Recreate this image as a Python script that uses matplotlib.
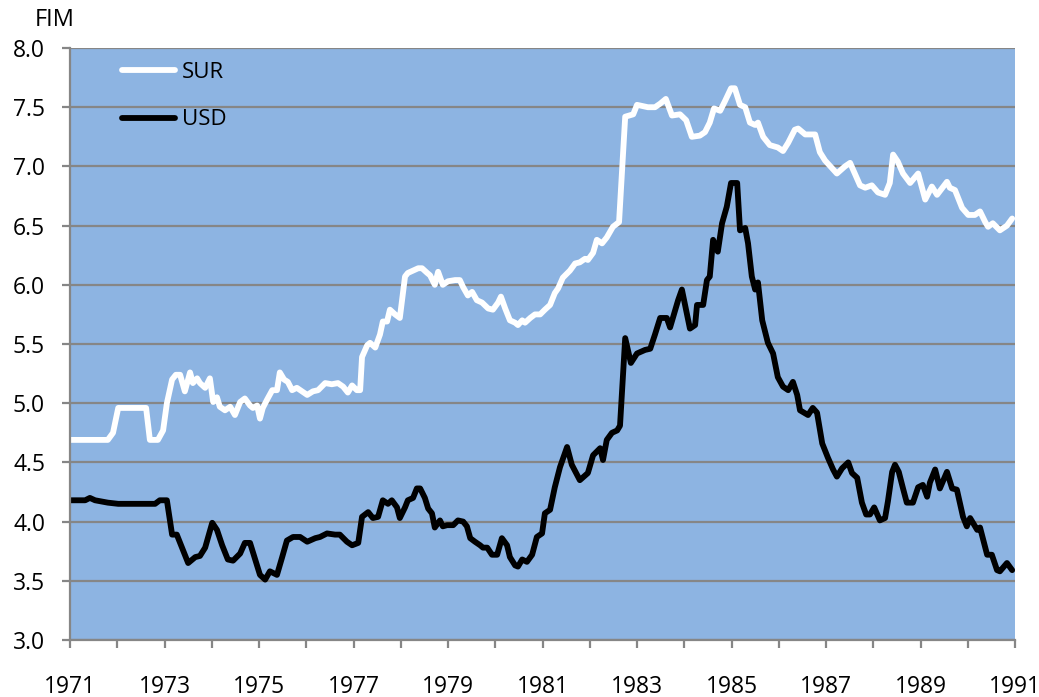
import matplotlib.pyplot as plt
from matplotlib.ticker import MultipleLocator

# FIM per currency (decimal years)
sur_year = [1971.00, 1971.80, 1971.91, 1972.02, 1972.61, 1972.69, 1972.86, 1972.97,
            1973.05, 1973.16, 1973.24, 1973.33, 1973.43, 1973.54, 1973.60, 1973.69,
            1973.75, 1973.86, 1973.96, 1974.03, 1974.11, 1974.17, 1974.28, 1974.39,
            1974.49, 1974.60, 1974.70, 1974.81, 1974.87, 1974.96, 1975.02, 1975.08,
            1975.17, 1975.28, 1975.38, 1975.44, 1975.53, 1975.61, 1975.70, 1975.80,
            1975.91, 1976.02, 1976.14, 1976.25, 1976.40, 1976.54, 1976.67, 1976.78,
            1976.88, 1976.97, 1977.07, 1977.14, 1977.18, 1977.29, 1977.35, 1977.46,
            1977.56, 1977.62, 1977.71, 1977.77, 1977.88, 1977.98, 1978.09, 1978.15,
            1978.26, 1978.37, 1978.45, 1978.56, 1978.62, 1978.72, 1978.79, 1978.89,
            1979.00, 1979.15, 1979.25, 1979.32, 1979.42, 1979.51, 1979.61, 1979.72,
            1979.85, 1979.95, 1980.06, 1980.12, 1980.21, 1980.31, 1980.42, 1980.48,
            1980.57, 1980.63, 1980.74, 1980.84, 1980.95, 1981.05, 1981.16, 1981.26,
            1981.33, 1981.43, 1981.58, 1981.69, 1981.79, 1981.90, 1981.96, 1982.07,
            1982.15, 1982.26, 1982.36, 1982.49, 1982.62, 1982.75, 1982.92, 1983.00,
            1983.23, 1983.38, 1983.49, 1983.61, 1983.74, 1983.91, 1984.04, 1984.16,
            1984.33, 1984.44, 1984.54, 1984.63, 1984.76, 1984.86, 1984.99, 1985.07,
            1985.18, 1985.29, 1985.39, 1985.50, 1985.56, 1985.67, 1985.81, 1985.98,
            1986.09, 1986.20, 1986.34, 1986.41, 1986.56, 1986.77, 1986.87, 1986.98,
            1987.23, 1987.40, 1987.51, 1987.61, 1987.72, 1987.83, 1987.97, 1988.10,
            1988.25, 1988.35, 1988.42, 1988.52, 1988.63, 1988.78, 1988.95, 1989.10,
            1989.24, 1989.35, 1989.56, 1989.62, 1989.73, 1989.88, 1990.01, 1990.15,
            1990.26, 1990.37, 1990.43, 1990.53, 1990.68, 1990.83, 1990.94]
sur = [4.69, 4.69, 4.75, 4.96, 4.96, 4.69, 4.69, 4.77,
       5.00, 5.20, 5.24, 5.24, 5.10, 5.26, 5.17, 5.21,
       5.17, 5.13, 5.21, 5.01, 5.05, 4.97, 4.94, 4.97,
       4.90, 5.01, 5.04, 4.98, 4.96, 4.98, 4.87, 4.96,
       5.03, 5.11, 5.11, 5.26, 5.20, 5.18, 5.11, 5.13,
       5.10, 5.07, 5.10, 5.11, 5.17, 5.16, 5.17, 5.14,
       5.09, 5.15, 5.11, 5.11, 5.39, 5.49, 5.51, 5.47,
       5.58, 5.69, 5.69, 5.79, 5.75, 5.72, 6.07, 6.10,
       6.12, 6.14, 6.14, 6.10, 6.08, 6.00, 6.11, 6.00,
       6.03, 6.04, 6.04, 5.98, 5.91, 5.94, 5.87, 5.85,
       5.80, 5.79, 5.85, 5.90, 5.80, 5.70, 5.68, 5.66,
       5.70, 5.68, 5.72, 5.75, 5.75, 5.79, 5.83, 5.93,
       5.97, 6.06, 6.12, 6.18, 6.19, 6.22, 6.21, 6.27,
       6.38, 6.35, 6.40, 6.49, 6.53, 7.42, 7.44, 7.52,
       7.50, 7.50, 7.53, 7.57, 7.43, 7.44, 7.39, 7.25,
       7.26, 7.29, 7.37, 7.49, 7.47, 7.55, 7.66, 7.66,
       7.52, 7.50, 7.37, 7.35, 7.37, 7.25, 7.18, 7.16,
       7.13, 7.20, 7.31, 7.32, 7.27, 7.27, 7.12, 7.05,
       6.94, 7.00, 7.03, 6.94, 6.84, 6.82, 6.84, 6.78,
       6.76, 6.86, 7.10, 7.04, 6.94, 6.86, 6.94, 6.72,
       6.83, 6.76, 6.87, 6.82, 6.80, 6.65, 6.59, 6.59,
       6.62, 6.53, 6.49, 6.52, 6.46, 6.50, 6.56]

usd_year = [1971.00, 1971.32, 1971.42, 1971.53, 1971.80, 1972.02, 1972.80, 1972.90,
            1973.05, 1973.16, 1973.26, 1973.39, 1973.50, 1973.65, 1973.75, 1973.86,
            1974.01, 1974.11, 1974.22, 1974.34, 1974.45, 1974.60, 1974.70, 1974.81,
            1974.92, 1975.02, 1975.13, 1975.23, 1975.38, 1975.49, 1975.59, 1975.72,
            1975.87, 1976.02, 1976.19, 1976.29, 1976.44, 1976.61, 1976.71, 1976.86,
            1976.97, 1977.10, 1977.18, 1977.31, 1977.41, 1977.52, 1977.62, 1977.73,
            1977.81, 1977.92, 1977.98, 1978.09, 1978.15, 1978.26, 1978.34, 1978.41,
            1978.51, 1978.58, 1978.66, 1978.72, 1978.83, 1978.89, 1978.98, 1979.11,
            1979.21, 1979.32, 1979.40, 1979.47, 1979.57, 1979.68, 1979.74, 1979.83,
            1979.93, 1980.04, 1980.14, 1980.25, 1980.31, 1980.42, 1980.48, 1980.57,
            1980.67, 1980.78, 1980.88, 1980.99, 1981.05, 1981.16, 1981.26, 1981.37,
            1981.52, 1981.62, 1981.79, 1981.96, 1982.07, 1982.22, 1982.28, 1982.36,
            1982.47, 1982.58, 1982.64, 1982.75, 1982.87, 1983.00, 1983.17, 1983.28,
            1983.38, 1983.49, 1983.63, 1983.70, 1983.87, 1983.95, 1984.12, 1984.23,
            1984.27, 1984.40, 1984.48, 1984.54, 1984.61, 1984.71, 1984.80, 1984.90,
            1984.99, 1985.12, 1985.18, 1985.29, 1985.35, 1985.43, 1985.50, 1985.56,
            1985.65, 1985.77, 1985.88, 1985.98, 1986.09, 1986.20, 1986.30, 1986.39,
            1986.45, 1986.62, 1986.72, 1986.81, 1986.92, 1987.04, 1987.15, 1987.23,
            1987.34, 1987.47, 1987.55, 1987.66, 1987.76, 1987.85, 1987.93, 1988.02,
            1988.14, 1988.25, 1988.31, 1988.40, 1988.46, 1988.54, 1988.63, 1988.71,
            1988.84, 1988.95, 1989.05, 1989.14, 1989.20, 1989.31, 1989.41, 1989.56,
            1989.67, 1989.77, 1989.90, 1989.98, 1990.05, 1990.20, 1990.26, 1990.41,
            1990.51, 1990.62, 1990.68, 1990.83, 1990.94]
usd = [4.18, 4.18, 4.20, 4.18, 4.16, 4.15, 4.15, 4.18,
       4.18, 3.89, 3.89, 3.76, 3.65, 3.70, 3.71, 3.78,
       3.99, 3.93, 3.80, 3.68, 3.67, 3.73, 3.82, 3.82,
       3.68, 3.55, 3.51, 3.58, 3.55, 3.70, 3.84, 3.87,
       3.87, 3.83, 3.86, 3.87, 3.90, 3.89, 3.89, 3.83,
       3.80, 3.82, 4.04, 4.08, 4.03, 4.04, 4.18, 4.15,
       4.18, 4.12, 4.03, 4.12, 4.18, 4.20, 4.28, 4.28,
       4.20, 4.11, 4.07, 3.95, 4.01, 3.96, 3.97, 3.97,
       4.01, 4.00, 3.96, 3.86, 3.83, 3.80, 3.78, 3.78,
       3.72, 3.72, 3.86, 3.80, 3.70, 3.63, 3.62, 3.68,
       3.66, 3.72, 3.87, 3.90, 4.07, 4.10, 4.29, 4.46,
       4.63, 4.48, 4.35, 4.41, 4.56, 4.62, 4.52, 4.69,
       4.75, 4.77, 4.81, 5.55, 5.34, 5.42, 5.45, 5.46,
       5.58, 5.72, 5.72, 5.64, 5.87, 5.96, 5.63, 5.66,
       5.83, 5.83, 6.04, 6.07, 6.38, 6.28, 6.52, 6.66,
       6.86, 6.86, 6.46, 6.48, 6.35, 6.07, 5.96, 6.02,
       5.70, 5.51, 5.42, 5.22, 5.14, 5.11, 5.18, 5.07,
       4.94, 4.90, 4.96, 4.92, 4.66, 4.54, 4.44, 4.38,
       4.45, 4.50, 4.41, 4.37, 4.16, 4.06, 4.06, 4.12,
       4.01, 4.03, 4.17, 4.42, 4.48, 4.42, 4.28, 4.16,
       4.16, 4.29, 4.31, 4.21, 4.33, 4.44, 4.28, 4.42,
       4.28, 4.27, 4.04, 3.96, 4.03, 3.93, 3.95, 3.72,
       3.72, 3.59, 3.58, 3.65, 3.59]

year_ticks = list(range(1971, 1992, 2))

plt.rcParams['font.family'] = ['Open Sans', 'DejaVu Sans']
grey = '#868686'

fig = plt.figure(figsize=(10.39, 6.97), dpi=100)
ax = fig.add_axes([0.0674, 0.0818, 0.9095, 0.8493])
ax.set_facecolor('#8DB4E2')

ax.plot(sur_year, sur, color='white', lw=4.2, label='SUR',
        solid_joinstyle='round', solid_capstyle='round')
ax.plot(usd_year, usd, color='black', lw=4.2, label='USD',
        solid_joinstyle='round', solid_capstyle='round')

ax.set_xlim(1971, 1991)
ax.set_ylim(3.0, 8.0)
ax.set_xticks(year_ticks)
ax.xaxis.set_minor_locator(MultipleLocator(1))
ax.yaxis.set_major_locator(MultipleLocator(0.5))
ax.yaxis.set_major_formatter(plt.FormatStrFormatter('%.1f'))

ax.grid(axis='y', color=grey, lw=1.6)
ax.set_axisbelow(True)
for s in ['top', 'right']:
    ax.spines[s].set_visible(False)
for s in ['left', 'bottom']:
    ax.spines[s].set_color(grey)
    ax.spines[s].set_linewidth(1.6)

ax.tick_params(axis='both', which='both', direction='out', color=grey, width=1.6,
               length=6, labelsize=16.5)
ax.tick_params(axis='x', which='major', pad=19)
ax.tick_params(axis='y', pad=12)

ax.text(-0.037, 1.048, 'FIM', transform=ax.transAxes, fontsize=17, ha='left', va='center')

ax.legend(loc='upper left', bbox_to_anchor=(0.055, 0.977), frameon=False, fontsize=16,
          handlelength=2.4, handletextpad=0.3, labelspacing=1.2, borderpad=0, borderaxespad=0)

fig.savefig('out.png', dpi=100)
